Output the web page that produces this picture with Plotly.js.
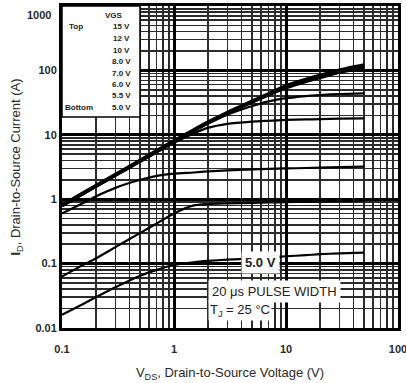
<!DOCTYPE html>
<html>
<head>
<meta charset="utf-8">
<script src="https://cdn.plot.ly/plotly-3.0.1.min.js"></script>
<style>html,body{margin:0;padding:0;background:#fff;}#chart{width:406px;height:383px;}</style>
</head>
<body>
<div id="chart"></div>
<script>
// Drain-to-source voltage (V)
const vds = [0.1, 0.15, 0.2, 0.3, 0.5, 0.7, 1, 1.5, 2, 3, 5, 7, 10, 15, 20, 30, 50];
// Drain current (A) for each gate voltage
const id15 = [0.8, 1.2, 1.6, 2.4, 4.0, 5.6, 8.0, 11.8, 15.5, 22, 33, 43, 57, 72, 83, 100, 120];
const id12 = [0.8, 1.2, 1.6, 2.4, 4.0, 5.6, 8.0, 11.8, 15.5, 22, 33, 42, 55, 69, 80, 96, 115];
const id10 = [0.79, 1.19, 1.58, 2.37, 3.95, 5.5, 7.9, 11.6, 15.2, 21.5, 32, 41, 53, 66, 76, 92, 110];
const id8 = [0.79, 1.18, 1.57, 2.35, 3.9, 5.4, 7.8, 11.4, 14.8, 20.5, 28, 33, 37, 40, 41.5, 43, 44];
const id7 = [0.78, 1.17, 1.55, 2.3, 3.8, 5.3, 7.5, 10.5, 12.8, 14.8, 16, 16.5, 17, 17.3, 17.5, 17.8, 18];
const id6 = [0.6, 0.85, 1.1, 1.5, 2.0, 2.3, 2.5, 2.6, 2.7, 2.8, 2.9, 2.95, 3.0, 3.05, 3.1, 3.15, 3.2];
const id55 = [0.063, 0.093, 0.12, 0.18, 0.3, 0.42, 0.6, 0.8, 0.84, 0.86, 0.88, 0.89, 0.9, 0.91, 0.92, 0.93, 0.95];
const id5 = [0.016, 0.023, 0.03, 0.043, 0.065, 0.08, 0.095, 0.105, 0.11, 0.115, 0.12, 0.125, 0.13, 0.135, 0.14, 0.144, 0.148];

const vgsLabels = ['15 V', '12 V', '10 V', '8.0 V', '7.0 V', '6.0 V', '5.5 V', '5.0 V'];
const xTickVals = [0.1, 1, 10, 100];
const xTickText = ['0.1', '1', '10', '100'];
const yTickVals = [0.01, 0.1, 1, 10, 100, 1000];
const yTickText = ['0.01', '0.1', '1', '10', '100', '1000'];

const series = [id15, id12, id10, id8, id7, id6, id55, id5];
const widths = [4, 2.5, 2.5, 2.2, 2.2, 2.2, 2.2, 2.2];

const traces = series.map((ys, i) => ({
  x: vds, y: ys, type: 'scatter', mode: 'lines', name: vgsLabels[i],
  line: {color: '#000', width: widths[i], shape: 'spline', smoothing: 0.6},
  hoverinfo: 'skip'
}));

const FONT = 'Liberation Sans, Arial, sans-serif';
const tickfont = {family: FONT, size: 11, color: '#2a2a2a', weight: 'bold'};

// pixel -> paper helpers for the plot frame
const L = 62, R = 398, T = 6, B = 328;
const px = v => (v - L) / (R - L);
const py = v => (B - v) / (B - T);

const smallFont = {family: FONT, size: 8, color: '#222', weight: 'bold'};
const annotations = [];
function note(x, y, text, font, extra) {
  annotations.push(Object.assign({xref: 'paper', yref: 'paper', x: px(x), y: py(y), text: text,
    showarrow: false, xanchor: 'center', yanchor: 'middle', font: font}, extra || {}));
}
note(114, 15, 'VGS', smallFont);
note(76, 27, 'Top', smallFont);
note(79, 107, 'Bottom', smallFont);
vgsLabels.forEach((t, i) => note(121, 27 + i * 11.5, t, smallFont));
// top y tick label placed like the reference (slightly below the frame edge)
note(53, 15, yTickText[5], tickfont, {xanchor: 'right'});
note(260, 262, '5.0 V', {family: FONT, size: 13, color: '#222', weight: 'bold'}, {bgcolor: '#fff', borderpad: 3});
note(208, 291, '20 \u03bcs PULSE WIDTH', {family: FONT, size: 13, color: '#222'},
  {xanchor: 'left', align: 'left', bgcolor: '#fff', borderpad: 3});
note(208, 310, 'T<sub>J</sub> = 25 \u00b0C', {family: FONT, size: 13, color: '#222'},
  {xanchor: 'left', align: 'left', bgcolor: '#fff', borderpad: 1});

const yTickTextShown = yTickText.map((t, i) => i === yTickText.length - 1 ? '' : t);

const layout = {
  width: 406, height: 383,
  margin: {l: 62, r: 8, t: 6, b: 55},
  paper_bgcolor: '#fff', plot_bgcolor: '#fff',
  showlegend: false,
  xaxis: {
    type: 'log', range: [-1, 2],
    tickmode: 'array', tickvals: xTickVals, ticktext: xTickText,
    showgrid: true, gridcolor: '#000', gridwidth: 3,
    minor: {dtick: 'D1', showgrid: true, gridcolor: '#2b2b2b', gridwidth: 1.6, ticks: ''},
    showline: true, mirror: true, linecolor: '#000', linewidth: 3,
    ticks: '', zeroline: false, tickfont: tickfont, ticklabelstandoff: 9,
    ticklabeloverflow: 'allow', automargin: false,
    title: {text: 'V<sub>DS</sub>, Drain-to-Source Voltage (V)', font: {family: FONT, size: 13, color: '#2a2a2a'}, standoff: 14}
  },
  yaxis: {
    type: 'log', range: [-2, 3],
    tickmode: 'array', tickvals: yTickVals, ticktext: yTickTextShown,
    showgrid: true, gridcolor: '#000', gridwidth: 3,
    minor: {dtick: 'D1', showgrid: true, gridcolor: '#2b2b2b', gridwidth: 1.6, ticks: ''},
    showline: true, mirror: true, linecolor: '#000', linewidth: 3,
    ticks: '', zeroline: false, tickfont: tickfont, automargin: false,
    title: {text: '<b>I</b><sub>D</sub>, Drain-to-Source Current (A)', font: {family: FONT, size: 13, color: '#2a2a2a'}, standoff: 12}
  },
  shapes: [
    {type: 'rect', xref: 'paper', yref: 'paper', x0: 0, x1: px(140), y0: py(117), y1: 1,
      fillcolor: '#fff', line: {color: '#000', width: 1.5}, layer: 'above'}
  ],
  annotations: annotations
};

Plotly.newPlot('chart', traces, layout, {staticPlot: true, displayModeBar: false});
</script>
</body>
</html>
